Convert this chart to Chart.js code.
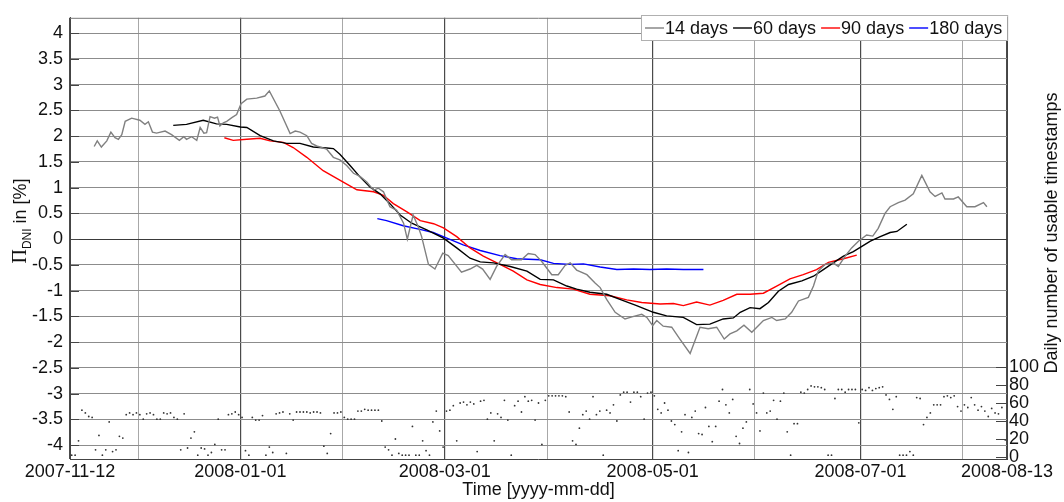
<!DOCTYPE html>
<html>
<head>
<meta charset="utf-8">
<script src="https://cdn.jsdelivr.net/npm/chart.js@4/dist/chart.umd.min.js"></script>
<style>
  html, body { margin: 0; padding: 0; background: #fff; }
  #chart { display: block; }
</style>
</head>
<body>
<canvas id="chart" width="1064" height="502"></canvas>
<script>

/* ===== data ===== */

const xTickDates = ["2007-11-12", "2008-01-01", "2008-03-01", "2008-05-01", "2008-07-01", "2008-08-13"]
const minorTickDates = ["2007-12-02", "2008-01-31", "2008-03-31", "2008-05-31", "2008-07-31"]

const yTicks = [-4, -3.5, -3, -2.5, -2, -1.5, -1, -0.5, 0, 0.5, 1, 1.5, 2, 2.5, 3, 3.5, 4]
const countTicks = [0, 20, 40, 60, 80, 100]

// day offsets from 2007-11-12 and values in %
const days14 = [7.1, 8, 9.2, 10.8, 12, 13.2, 14.2, 15.2, 16.2, 18.1, 20.5, 22, 23, 24.2, 25.4, 27.9, 29.8, 32.1, 33.4, 34.2, 35.7, 37.2, 38.2, 39.3, 40.1, 41.1, 42.4, 43.3, 44, 45, 46, 47.5, 48.9, 50.2, 51.9, 54.8, 57.2, 58.5, 61.6, 64.6, 66.1, 67.5, 69.5, 70.9, 72.4, 75.3, 77.3, 79.2, 81.2, 83.2, 85.1, 87.1, 89.1, 90.5, 92, 93.9, 95.9, 97.9, 99, 100.7, 102.2, 103.2, 105.2, 107.1, 109.4, 111, 114.9, 117.4, 119.4, 121.1, 123.3, 125.2, 127.7, 129.6, 132.5, 134.5, 136.5, 138.4, 141.4, 143.3, 145.3, 146.8, 148.7, 151.7, 154.1, 155.6, 157.5, 160, 162.9, 164.9, 167.8, 169.3, 171, 172.2, 174.1, 176.6, 179, 182, 184.9, 187.3, 189.8, 192, 193.7, 195.7, 197.8, 200.1, 202, 203.5, 206, 207.4, 209.9, 211.8, 213.8, 216.7, 218.2, 219.6, 221.6, 224, 225.5, 227.5, 229.4, 231.4, 233.8, 235.6, 237.2, 239.2, 240.7, 243.1, 245.1, 247.5, 250, 252.4, 253.9, 255.9, 256.8, 259.3, 260.7, 263.2, 265.6, 268.1, 269.1]
const vals14 = [1.80, 1.91, 1.79, 1.91, 2.08, 1.97, 1.94, 2.03, 2.29, 2.35, 2.31, 2.23, 2.28, 2.08, 2.06, 2.10, 2.03, 1.92, 1.99, 1.94, 1.99, 1.92, 2.17, 2.06, 2.07, 2.38, 2.35, 2.37, 2.20, 2.26, 2.29, 2.36, 2.42, 2.63, 2.72, 2.74, 2.78, 2.88, 2.49, 2.05, 2.10, 2.08, 2.01, 1.86, 1.81, 1.75, 1.59, 1.54, 1.43, 1.28, 1.22, 1.11, 0.95, 0.99, 0.92, 0.63, 0.56, 0.31, 0.00, 0.47, 0.24, 0.05, -0.49, -0.58, -0.27, -0.32, -0.64, -0.58, -0.51, -0.58, -0.78, -0.53, -0.30, -0.40, -0.40, -0.28, -0.30, -0.43, -0.69, -0.69, -0.51, -0.46, -0.60, -0.69, -0.85, -0.94, -1.17, -1.42, -1.55, -1.51, -1.46, -1.52, -1.68, -1.58, -1.69, -1.71, -1.94, -2.22, -1.71, -1.74, -1.71, -1.94, -1.84, -1.78, -1.67, -1.81, -1.68, -1.58, -1.52, -1.58, -1.55, -1.42, -1.20, -1.13, -0.91, -0.62, -0.49, -0.46, -0.53, -0.33, -0.17, -0.04, 0.08, 0.06, 0.21, 0.50, 0.63, 0.71, 0.76, 0.88, 1.24, 0.92, 0.83, 0.90, 0.78, 0.78, 0.82, 0.63, 0.63, 0.71, 0.63]

const days60 = [30.3, 34.2, 39.1, 43, 46, 50, 51.9, 55.8, 59.7, 63.6, 67.5, 71.4, 75.3, 77.3, 79.2, 82.2, 85.1, 88.1, 91, 93.9, 96.9, 100.3, 104.7, 109.6, 113.5, 117.4, 120.4, 124.3, 129.2, 134.1, 138, 141.9, 145.8, 148.7, 152.6, 157.5, 161.4, 166.3, 171.2, 175.1, 180, 183.9, 187.8, 191.7, 194.7, 196.7, 199.6, 202.5, 205, 207.9, 210.9, 214.8, 218.2, 221.1, 224, 227, 229.9, 232.4, 234.9, 237.8, 240.7, 242.7, 245.6]
const vals60 = [2.21, 2.23, 2.31, 2.24, 2.23, 2.18, 2.17, 2.01, 1.91, 1.86, 1.86, 1.79, 1.77, 1.76, 1.65, 1.43, 1.21, 1.01, 0.88, 0.69, 0.47, 0.31, 0.18, 0.02, -0.17, -0.37, -0.44, -0.46, -0.53, -0.62, -0.78, -0.79, -0.91, -0.97, -1.03, -1.07, -1.17, -1.29, -1.42, -1.49, -1.52, -1.66, -1.65, -1.55, -1.53, -1.42, -1.33, -1.35, -1.23, -1.01, -0.88, -0.81, -0.72, -0.59, -0.46, -0.33, -0.24, -0.14, -0.04, 0.05, 0.13, 0.15, 0.29]

const days90 = [45.3, 47.9, 51.9, 55.8, 58.7, 62.6, 65.5, 69.5, 74.3, 80.2, 84.2, 89.1, 92, 94.9, 98.9, 102.8, 106.7, 109.6, 113.5, 117.4, 121.3, 126.2, 130.1, 134.1, 138, 142.9, 147.7, 152.6, 158.5, 163.4, 167.8, 173.2, 177.1, 180, 183.9, 187.8, 191.7, 195.7, 199.6, 203.5, 207.4, 211.3, 215.2, 219.1, 222.6, 227, 230.9]
const vals90 = [1.97, 1.92, 1.94, 1.96, 1.91, 1.88, 1.78, 1.59, 1.33, 1.11, 0.96, 0.92, 0.85, 0.69, 0.53, 0.36, 0.30, 0.22, 0.05, -0.17, -0.33, -0.49, -0.62, -0.79, -0.88, -0.94, -0.97, -1.07, -1.10, -1.18, -1.23, -1.26, -1.25, -1.29, -1.22, -1.28, -1.19, -1.07, -1.07, -1.05, -0.91, -0.77, -0.69, -0.59, -0.45, -0.38, -0.31]

const days180 = [90.2, 92.9, 97.8, 102.7, 106.6, 110.6, 115.4, 120.4, 126.2, 131.1, 138, 141.9, 146.8, 150.7, 155.6, 160.5, 165.4, 170.2, 175.1, 180, 185.9]
const vals180 = [0.40, 0.36, 0.26, 0.19, 0.13, 0.02, -0.11, -0.22, -0.32, -0.38, -0.40, -0.47, -0.49, -0.48, -0.54, -0.59, -0.58, -0.59, -0.58, -0.59, -0.59]

// daily number of usable timestamps, one value per day from 2007-11-12
const dailyCounts = [
  2, 2, 18, 52, 49, 45, 44, 8, 24, 2, 8, 39, 6, 8, 23, 21, 47, 49, 47, 49,
  47, 42, 48, 49, 47, 42, 42, 49, 48, 49, 44, 42, 8, 48, 10, 21, 28, 2, 10, 9,
  2, 5, 14, 42, 8, 8, 47, 48, 50, 47, 44, 7, 2, 44, 41, 41, 46, 2, 11, 5,
  48, 49, 50, 4, 48, 41, 50, 50, 50, 50, 49, 50, 50, 49, 12, 4, 26, 49, 49, 50,
  44, 42, 42, 42, 51, 51, 53, 52, 52, 52, 52, 40, 11, 8, 2, 20, 4, 2, 2, 2,
  34, 2, 2, 18, 7, 2, 39, 51, 29, 11, 51, 52, 57, 18, 60, 61, 58, 61, 59, 6,
  62, 63, 42, 49, 18, 48, 44, 63, 41, 2, 57, 62, 50, 67, 62, 63, 41, 60, 14, 63,
  68, 68, 68, 68, 68, 67, 50, 18, 14, 32, 47, 51, 42, 67, 47, 51, 2, 52, 49, 58,
  40, 69, 72, 72, 61, 72, 72, 67, 42, 71, 72, 68, 53, 49, 60, 52, 40, 36, 7, 28,
  47, 5, 44, 51, 26, 25, 55, 34, 17, 34, 62, 75, 58, 49, 64, 23, 15, 32, 39, 75,
  59, 49, 29, 71, 49, 51, 63, 42, 62, 71, 28, 2, 37, 37, 72, 71, 75, 79, 78, 78,
  77, 75, 2, 2, 65, 75, 75, 72, 75, 75, 75, 38, 75, 74, 77, 74, 76, 77, 78, 69,
  64, 53, 67, 2, 2, 2, 6, 2, 66, 65, 36, 44, 49, 58, 58, 58, 67, 68, 66, 68,
  56, 51, 58, 55, 66, 58, 52, 56, 51, 45, 54, 49, 48, 55, 19
]


/* ===== helpers ===== */

const FONT = "'Liberation Sans', Arial, sans-serif"

function dayOf(s) {
  return (Date.parse(s) - Date.parse(xTickDates[0])) / 86400000
}

function pairs(xs, ys) {
  return xs.map((x, i) => ({ x: x, y: ys[i] }))
}

const majorDays = xTickDates.map(dayOf)
const minorDays = minorTickDates.map(dayOf)
const labelByDay = {}
xTickDates.forEach((s, i) => { labelByDay[majorDays[i]] = s })


/* ===== overlay: axis titles, legend, frame ===== */

const overlay = {
  id: "overlay",
  afterDraw(chart) {
    const ctx = chart.ctx
    const a = chart.chartArea
    const y1 = chart.scales.y
    const y2 = chart.scales.y2

    ctx.save()

    // top frame line
    ctx.strokeStyle = "#777"
    ctx.lineWidth = 1
    ctx.beginPath()
    ctx.moveTo(a.left, a.top + 0.5)
    ctx.lineTo(a.right, a.top + 0.5)
    ctx.stroke()

    // inward ticks on both y axes
    ctx.strokeStyle = "#444"
    yTicks.forEach(v => {
      const py = Math.round(y1.getPixelForValue(v)) + 0.5
      ctx.beginPath()
      ctx.moveTo(a.left, py)
      ctx.lineTo(a.left + 9, py)
      ctx.stroke()
    })
    countTicks.forEach(v => {
      const py = Math.round(y2.getPixelForValue(v)) + 0.5
      ctx.beginPath()
      ctx.moveTo(a.right - 11, py)
      ctx.lineTo(a.right, py)
      ctx.stroke()
    })

    ctx.fillStyle = "#111"

    // left title: Pi_DNI in [%]
    ctx.save()
    ctx.translate(20, 221)
    ctx.rotate(-Math.PI / 2)
    ctx.textBaseline = "alphabetic"
    ctx.textAlign = "left"
    const piFont = "20px 'Liberation Serif', 'DejaVu Serif', serif"
    const subFont = "12px " + FONT
    const restFont = "18px " + FONT
    ctx.font = piFont
    const wPi = ctx.measureText("\u03A0").width
    ctx.font = subFont
    const wSub = ctx.measureText("DNI").width
    ctx.font = restFont
    const wRest = ctx.measureText(" in [%]").width
    let tx = -(wPi + wSub + wRest) / 2
    const base = 6
    ctx.font = piFont
    ctx.fillText("\u03A0", tx, base)
    tx += wPi
    ctx.font = subFont
    ctx.fillText("DNI", tx, base + 5)
    tx += wSub
    ctx.font = restFont
    ctx.fillText(" in [%]", tx, base)
    ctx.restore()

    // right title
    ctx.save()
    ctx.translate(1052, 233)
    ctx.rotate(-Math.PI / 2)
    ctx.font = "18px " + FONT
    ctx.textAlign = "center"
    ctx.textBaseline = "middle"
    ctx.fillText("Daily number of usable timestamps", 0, 0)
    ctx.restore()

    // bottom title
    ctx.font = "18px " + FONT
    ctx.textAlign = "center"
    ctx.textBaseline = "middle"
    ctx.fillText("Time [yyyy-mm-dd]", (a.left + a.right) / 2, 490)

    // legend box
    const lines = chart.data.datasets.filter(d => d.type === "line")
    ctx.font = "18px " + FONT
    ctx.textAlign = "left"
    const boxX = 641, boxY = 15, boxH = 25
    let w = 4
    lines.forEach(d => { w += 19 + 1 + ctx.measureText(d.label).width + 5 })
    ctx.fillStyle = "#fff"
    ctx.fillRect(boxX, boxY, w, boxH)
    ctx.strokeStyle = "#b0b0b0"
    ctx.lineWidth = 1
    ctx.strokeRect(boxX + 0.5, boxY + 0.5, w, boxH)
    let lx = boxX + 4
    const ly = boxY + boxH / 2 + 0.5
    lines.forEach(d => {
      ctx.strokeStyle = d.borderColor
      ctx.lineWidth = 1.4
      ctx.beginPath()
      ctx.moveTo(lx, ly)
      ctx.lineTo(lx + 19, ly)
      ctx.stroke()
      lx += 20
      ctx.fillStyle = "#111"
      ctx.textBaseline = "middle"
      ctx.fillText(d.label, lx, ly + 1)
      lx += ctx.measureText(d.label).width + 5
    })

    ctx.restore()
  }
}


/* ===== chart ===== */

const ctx = document.getElementById("chart").getContext("2d")

function lineSet(label, color, xs, ys) {
  return {
    type: "line",
    label: label,
    data: pairs(xs, ys),
    borderColor: color,
    borderWidth: 1.4,
    pointRadius: 0,
    tension: 0,
    fill: false,
    yAxisID: "y"
  }
}

new Chart(ctx, {

  data: {
    datasets: [
      {
        type: "scatter",
        label: "counts",
        data: dailyCounts.map((c, i) => ({ x: i + 0.5, y: c })),
        backgroundColor: "#333",
        borderColor: "#333",
        pointRadius: 0.9,
        pointBorderWidth: 0,
        yAxisID: "y2"
      },
      lineSet("14 days", "#808080", days14, vals14),
      lineSet("60 days", "#000000", days60, vals60),
      lineSet("90 days", "#ff0000", days90, vals90),
      lineSet("180 days", "#0000ff", days180, vals180)
    ]
  },

  options: {
    responsive: false,
    animation: false,
    devicePixelRatio: 1,
    layout: { padding: { top: 12, left: 0, right: 0, bottom: 0 } },
    plugins: {
      legend: { display: false },
      tooltip: { enabled: false }
    },
    scales: {
      x: {
        type: "linear",
        min: 0,
        max: dayOf(xTickDates[xTickDates.length - 1]),
        afterBuildTicks: s => {
          s.ticks = majorDays.concat(minorDays).sort((p, q) => p - q).map(v => ({ value: v }))
        },
        afterFit: s => { s.height = 43 },
        ticks: {
          autoSkip: false,
          maxRotation: 0,
          padding: 2,
          color: "#111",
          font: { family: FONT, size: 18 },
          callback: v => labelByDay[v] || ""
        },
        grid: {
          drawTicks: false,
          color: c => (c.tick && labelByDay[c.tick.value] !== undefined) ? "#4a4a4a" : "#a8a8a8",
          lineWidth: c => (c.tick && labelByDay[c.tick.value] !== undefined) ? 1.2 : 1
        },
        border: { color: "#444" }
      },
      y: {
        position: "left",
        min: -4.27,
        max: 4.3,
        afterBuildTicks: s => { s.ticks = yTicks.map(v => ({ value: v })) },
        afterFit: s => { s.width = 70 },
        ticks: {
          padding: 7,
          color: "#111",
          font: { family: FONT, size: 18 },
          callback: v => String(v)
        },
        grid: {
          drawTicks: false,
          color: c => (c.tick && c.tick.value === 0) ? "#3a3a3a" : "#8c8c8c",
          lineWidth: 1
        },
        border: { color: "#444" }
      },
      y2: {
        position: "right",
        min: -2.2,
        max: 488,
        afterBuildTicks: s => { s.ticks = countTicks.map(v => ({ value: v })) },
        afterFit: s => { s.width = 57 },
        ticks: {
          padding: 2,
          color: "#111",
          font: { family: FONT, size: 18 },
          callback: v => String(v)
        },
        grid: { drawOnChartArea: false, drawTicks: false },
        border: { color: "#444" }
      }
    }
  },

  plugins: [overlay]

})

</script>
</body>
</html>
